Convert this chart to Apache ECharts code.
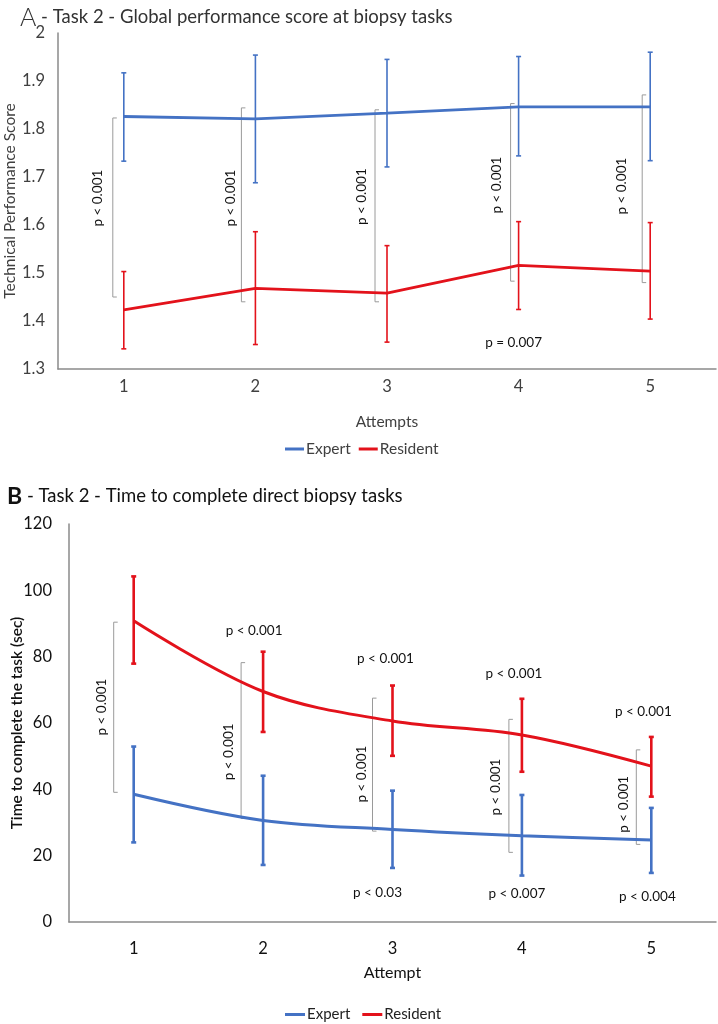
<!DOCTYPE html>
<html><head><meta charset="utf-8">
<script src="https://cdn.jsdelivr.net/npm/echarts@6/dist/echarts.min.js"></script>
<style>html,body{margin:0;padding:0;background:#fff}#c{width:718px;height:1024px}</style>
</head><body><div id="c"></div>
<script>
// ---------- data ----------
const categories = ['1', '2', '3', '4', '5'];
const seriesNames = ['Expert', 'Resident'];

// Panel A: Technical Performance Score
const expertA = [1.826, 1.821, 1.833, 1.846, 1.846];
const expertALow = [1.733, 1.688, 1.721, 1.744, 1.734];
const expertAHigh = [1.917, 1.954, 1.945, 1.951, 1.960];
const residentA = [1.423, 1.468, 1.458, 1.516, 1.504];
const residentALow = [1.342, 1.351, 1.356, 1.424, 1.404];
const residentAHigh = [1.503, 1.586, 1.557, 1.607, 1.605];
const yTicksA = { min: 1.3, max: 2, interval: 0.1 };
const bracketTopA = [1.823, 1.844, 1.840, 1.853, 1.871];
const bracketBotA = [1.450, 1.440, 1.440, 1.483, 1.480];
const pRotA = ['p < 0.001', 'p < 0.001', 'p < 0.001', 'p < 0.001', 'p < 0.001'];
const pRotAValue = [1.656, 1.656, 1.659, 1.683, 1.681];
const pFlatA = [[3, 1.354, 'p = 0.007']];

// Panel B: Time to complete the task (sec)
const expertB = [38.5, 30.6, 27.9, 26.0, 24.7];
const expertBLow = [24.0, 17.2, 16.3, 14.0, 14.8];
const expertBHigh = [52.9, 44.1, 39.6, 38.3, 34.4];
const residentB = [90.8, 69.5, 60.6, 56.4, 47.0];
const residentBLow = [77.9, 57.3, 50.1, 45.3, 37.8];
const residentBHigh = [104.2, 81.5, 71.3, 67.3, 55.8];
const yTicksB = { min: 0, max: 120, interval: 20 };
const bracketTopB = [90.4, 78.2, 67.5, 61.1, 51.9];
const bracketBotB = [39.1, 31.2, 27.4, 21.0, 23.4];
const pRotB = ['p < 0.001', 'p < 0.001', 'p < 0.001', 'p < 0.001', 'p < 0.001'];
const pRotBValue = [64.8, 51.3, 44.6, 40.7, 35.5];
const pFlatB = [
  [1, 87.8, 'p < 0.001'], [2, 79.3, 'p < 0.001'], [3, 74.8, 'p < 0.001'], [4, 63.3, 'p < 0.001'],
  [2, 9.0, 'p < 0.03'], [3, 8.7, 'p < 0.007'], [4, 7.5, 'p < 0.004']
];

// ---------- styles ----------
const BLUE = '#4472c4', RED = '#e3121b', GRAY = '#9a9a9a';
const FONT = 'Lato, "Open Sans", sans-serif';
const bracketDxA = [-11, -14, -12, -8, -8];
const bracketDxB = [-20, -22, -20, -13, -15];
const rotDxA = [-26, -25, -25, -22, -29];
const rotDxB = [-32, -34, -31, -26, -28];
const flatDxA = [-5];
const flatDxB = [-9, -7, -8, -8, -15, -5, -4];

function errRender(color, lw, cap) {
  return function (params, api) {
    const lo = api.coord([api.value(0), api.value(1)]);
    const hi = api.coord([api.value(0), api.value(2)]);
    const st = { stroke: color, lineWidth: lw };
    return { type: 'group', children: [
      { type: 'line', shape: { x1: lo[0], y1: lo[1], x2: hi[0], y2: hi[1] }, style: st },
      { type: 'line', shape: { x1: lo[0] - cap, y1: lo[1], x2: lo[0] + cap, y2: lo[1] }, style: st },
      { type: 'line', shape: { x1: hi[0] - cap, y1: hi[1], x2: hi[0] + cap, y2: hi[1] }, style: st }
    ]};
  };
}
function bracketRender(dx) {
  return function (params, api) {
    const t = api.coord([api.value(0), api.value(1)]);
    const b = api.coord([api.value(0), api.value(2)]);
    const x = t[0] + dx[params.dataIndex];
    return { type: 'polyline', shape: { points: [[x + 4, t[1]], [x, t[1]], [x, b[1]], [x + 4, b[1]]] },
      style: { stroke: GRAY, lineWidth: 1, fill: null } };
  };
}
function textRender(texts, dx, rotate, size) {
  return function (params, api) {
    const p = api.coord([api.value(0), api.value(1)]);
    return { type: 'text', x: p[0] + dx[params.dataIndex], y: p[1], rotation: rotate ? Math.PI / 2 : 0,
      style: { text: texts[params.dataIndex], fill: '#111', fontSize: size, fontFamily: FONT,
        align: 'center', verticalAlign: 'middle' } };
  };
}
const idx = categories.map((c, i) => i);

const axisLineStyle = { show: true, lineStyle: { color: '#8a8a8a', width: 1.5 } };

const option = {
  backgroundColor: '#fff',
  animation: false,
  title: [
    { left: 15, top: 0, text: '{a|A}{t| - Task 2 - Global performance score at biopsy tasks}',
      textStyle: { fontWeight: 'normal', rich: {
        a: { fontSize: 25, fontFamily: FONT, color: '#333', fontWeight: 300 },
        t: { fontSize: 18.5, fontFamily: FONT, color: '#333', fontWeight: 'normal' } } } },
    { left: 2, top: 480, text: '{b|B}{t| - Task 2 - Time to complete direct biopsy tasks}',
      textStyle: { fontWeight: 'normal', rich: {
        b: { fontSize: 23, fontFamily: FONT, color: '#111', fontWeight: 'bold' },
        t: { fontSize: 18.5, fontFamily: FONT, color: '#111', fontWeight: 'normal' } } } }
  ],
  legend: [
    { data: seriesNames, left: 280, top: 436, icon: 'rect', itemWidth: 19, itemHeight: 3, itemGap: 8,
      textStyle: { fontSize: 15.5, fontFamily: FONT, color: '#404040', padding: [0, 0, 0, -3] } },
    { data: seriesNames, left: 280, top: 1002, icon: 'rect', itemWidth: 20, itemHeight: 3, itemGap: 12,
      textStyle: { fontSize: 15, fontFamily: FONT, color: '#222', padding: [0, 0, 0, -3] } }
  ],
  grid: [
    { left: 58, right: 2, top: 33, bottom: 655, containLabel: false, outerBoundsMode: 'none' },
    { left: 69, right: 2, top: 524, bottom: 102, containLabel: false, outerBoundsMode: 'none' }
  ],
  xAxis: [
    { gridIndex: 0, type: 'category', data: categories, boundaryGap: true,
      name: 'Attempts', nameLocation: 'middle', nameGap: 45, nameMoveOverlap: false,
      nameTextStyle: { fontSize: 15.5, fontFamily: FONT, color: '#404040' },
      axisLine: axisLineStyle, axisTick: { show: false }, splitLine: { show: false },
      axisLabel: { fontSize: 16.5, fontFamily: FONT, color: '#404040', margin: 9 } },
    { gridIndex: 1, type: 'category', data: categories, boundaryGap: true,
      name: 'Attempt', nameLocation: 'middle', nameGap: 43, nameMoveOverlap: false,
      nameTextStyle: { fontSize: 16, fontFamily: FONT, color: '#111' },
      axisLine: axisLineStyle, axisTick: { show: false }, splitLine: { show: false },
      axisLabel: { fontSize: 16.5, fontFamily: FONT, color: '#111', margin: 18 } }
  ],
  yAxis: [
    { gridIndex: 0, type: 'value', min: yTicksA.min, max: yTicksA.max, interval: yTicksA.interval,
      name: 'Technical Performance Score', nameLocation: 'middle', nameGap: 40, nameRotate: 90,
      nameMoveOverlap: false,
      nameTextStyle: { fontSize: 15.5, fontFamily: FONT, color: '#404040' },
      axisLine: axisLineStyle, axisTick: { show: false }, splitLine: { show: false },
      axisLabel: { fontSize: 16.5, fontFamily: FONT, color: '#404040', margin: 13,
        formatter: v => String(+v.toFixed(1)) } },
    { gridIndex: 1, type: 'value', min: yTicksB.min, max: yTicksB.max, interval: yTicksB.interval,
      name: 'Time to complete the task (sec)', nameLocation: 'middle', nameGap: 44, nameRotate: 90,
      nameMoveOverlap: false,
      nameTextStyle: { fontSize: 15.5, fontFamily: FONT, color: '#111', fontWeight: 600 },
      axisLine: axisLineStyle, axisTick: { show: false }, splitLine: { show: false },
      axisLabel: { fontSize: 16.5, fontFamily: FONT, color: '#111', margin: 17 } }
  ],
  series: [
    // ---- Panel A ----
    { type: 'custom', name: 'bracketsA', xAxisIndex: 0, yAxisIndex: 0, z: 1, clip: false,
      data: idx.map(i => [i, bracketTopA[i], bracketBotA[i]]), renderItem: bracketRender(bracketDxA) },
    { type: 'custom', name: 'errExpertA', xAxisIndex: 0, yAxisIndex: 0, z: 2, clip: false,
      data: idx.map(i => [i, expertALow[i], expertAHigh[i]]), renderItem: errRender(BLUE, 1.6, 2.5) },
    { type: 'custom', name: 'errResidentA', xAxisIndex: 0, yAxisIndex: 0, z: 2, clip: false,
      data: idx.map(i => [i, residentALow[i], residentAHigh[i]]), renderItem: errRender(RED, 1.6, 2.5) },
    { type: 'line', name: 'Expert', xAxisIndex: 0, yAxisIndex: 0, z: 3, data: expertA,
      showSymbol: false, color: BLUE, lineStyle: { width: 2.8, color: BLUE } },
    { type: 'line', name: 'Resident', xAxisIndex: 0, yAxisIndex: 0, z: 3, data: residentA,
      showSymbol: false, color: RED, lineStyle: { width: 2.8, color: RED } },
    { type: 'custom', name: 'pRotA', xAxisIndex: 0, yAxisIndex: 0, z: 4, clip: false,
      data: idx.map(i => [i, pRotAValue[i]]), renderItem: textRender(pRotA, rotDxA, true, 13.5) },
    { type: 'custom', name: 'pFlatA', xAxisIndex: 0, yAxisIndex: 0, z: 4, clip: false,
      data: pFlatA.map(d => [d[0], d[1]]), renderItem: textRender(pFlatA.map(d => d[2]), flatDxA, false, 13.5) },
    // ---- Panel B ----
    { type: 'custom', name: 'bracketsB', xAxisIndex: 1, yAxisIndex: 1, z: 1, clip: false,
      data: idx.map(i => [i, bracketTopB[i], bracketBotB[i]]), renderItem: bracketRender(bracketDxB) },
    { type: 'custom', name: 'errExpertB', xAxisIndex: 1, yAxisIndex: 1, z: 2, clip: false,
      data: idx.map(i => [i, expertBLow[i], expertBHigh[i]]), renderItem: errRender(BLUE, 2.6, 2.5) },
    { type: 'custom', name: 'errResidentB', xAxisIndex: 1, yAxisIndex: 1, z: 2, clip: false,
      data: idx.map(i => [i, residentBLow[i], residentBHigh[i]]), renderItem: errRender(RED, 2.6, 2.5) },
    { type: 'line', name: 'Expert', xAxisIndex: 1, yAxisIndex: 1, z: 3, data: expertB, smooth: 0.35,
      showSymbol: false, color: BLUE, lineStyle: { width: 3, color: BLUE } },
    { type: 'line', name: 'Resident', xAxisIndex: 1, yAxisIndex: 1, z: 3, data: residentB, smooth: 0.35,
      showSymbol: false, color: RED, lineStyle: { width: 3, color: RED } },
    { type: 'custom', name: 'pRotB', xAxisIndex: 1, yAxisIndex: 1, z: 4, clip: false,
      data: idx.map(i => [i, pRotBValue[i]]), renderItem: textRender(pRotB, rotDxB, true, 13.5) },
    { type: 'custom', name: 'pFlatB', xAxisIndex: 1, yAxisIndex: 1, z: 4, clip: false,
      data: pFlatB.map(d => [d[0], d[1]]), renderItem: textRender(pFlatB.map(d => d[2]), flatDxB, false, 13.5) }
  ]
};
const chart = echarts.init(document.getElementById('c'), null, { renderer: 'canvas' });
chart.setOption(option);
</script>
</body></html>
